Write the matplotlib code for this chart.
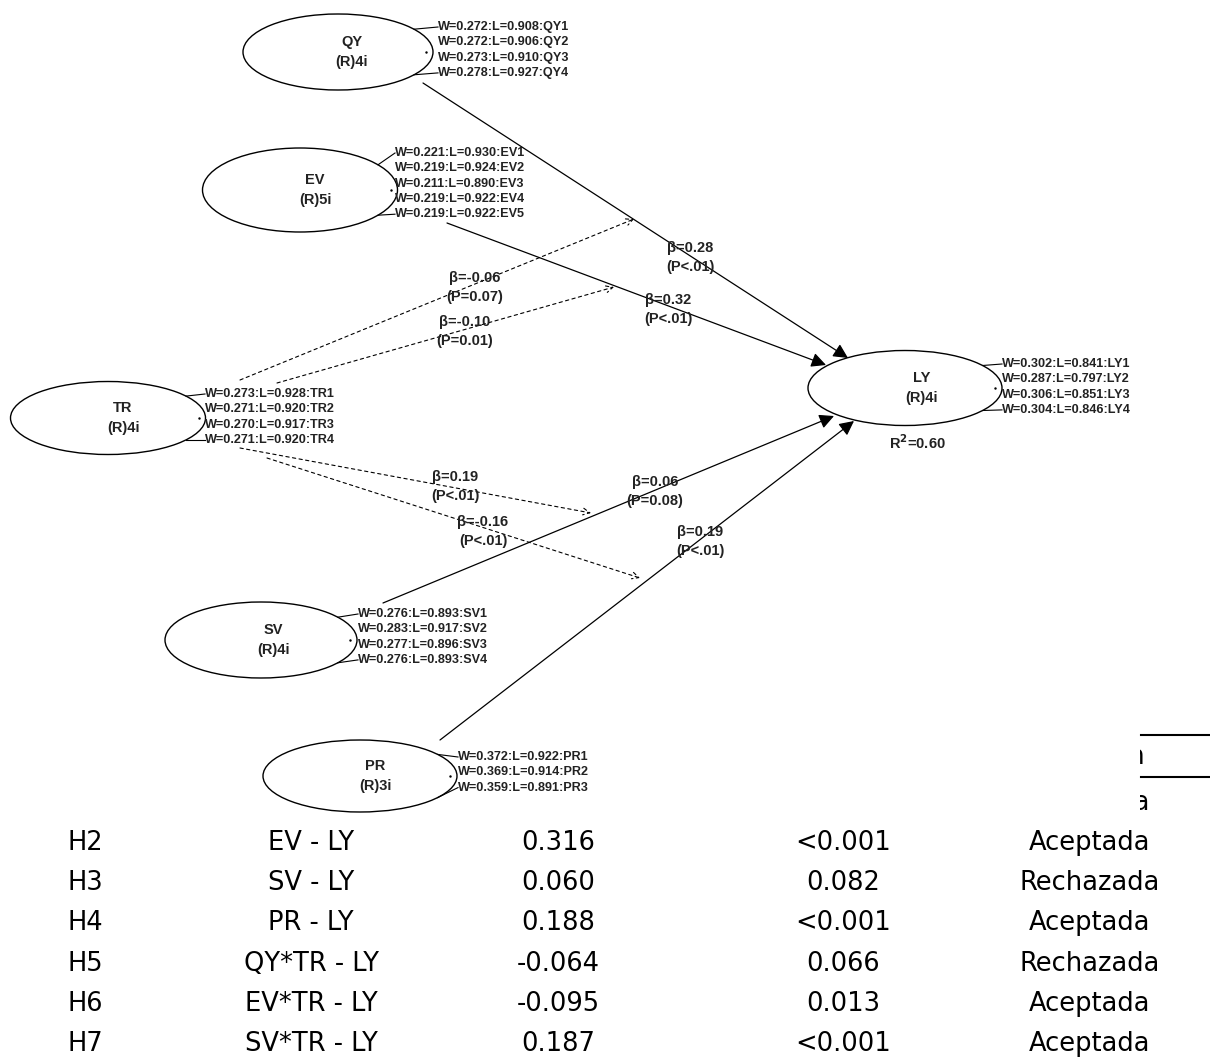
import numpy as np
import matplotlib
matplotlib.use('Agg')
import matplotlib.pyplot as plt  # noqa E402
from matplotlib.patches import Ellipse, Rectangle  # noqa E402

plt.rcParams['font.family'] = ['Liberation Sans', 'DejaVu Sans']

# Measurement model: construct -> (weight, loading) per indicator
constructs = ["QY", "EV", "TR", "LY", "SV", "PR"]
n_items = ["(R)4i", "(R)5i", "(R)4i", "(R)4i", "(R)4i", "(R)3i"]
weights = {
    "QY": [0.272, 0.272, 0.273, 0.278],
    "EV": [0.221, 0.219, 0.211, 0.219, 0.219],
    "TR": [0.273, 0.271, 0.270, 0.271],
    "LY": [0.302, 0.287, 0.306, 0.304],
    "SV": [0.276, 0.283, 0.277, 0.276],
    "PR": [0.372, 0.369, 0.359],
}
loadings = {
    "QY": [0.908, 0.906, 0.910, 0.927],
    "EV": [0.930, 0.924, 0.890, 0.922, 0.922],
    "TR": [0.928, 0.920, 0.917, 0.920],
    "LY": [0.841, 0.797, 0.851, 0.846],
    "SV": [0.893, 0.917, 0.896, 0.893],
    "PR": [0.922, 0.914, 0.891],
}
r_squared = 0.60

# Structural paths
direct_src = ["QY", "EV", "SV", "PR"]
direct_beta = ["0.28", "0.32", "0.06", "0.19"]
direct_p = ["(P<.01)", "(P<.01)", "(P=0.08)", "(P<.01)"]
moder_target = ["QY", "EV", "SV", "PR"]
moder_beta = ["-0.06", "-0.10", "0.19", "-0.16"]
moder_p = ["(P=0.07)", "(P=0.01)", "(P<.01)", "(P<.01)"]

# Hypothesis table (header and H1 row are mostly hidden behind the diagram)
hyp = ["H2", "H3", "H4", "H5", "H6", "H7"]
relation = ["EV - LY", "SV - LY", "PR - LY",
            "QY*TR - LY", "EV*TR - LY", "SV*TR - LY"]
coef = ["0.316", "0.060", "0.188", "-0.064", "-0.095", "0.187"]
pval = ["<0.001", "0.082", "<0.001", "0.066", "0.013", "<0.001"]
decision = ["Aceptada", "Rechazada", "Aceptada",
            "Rechazada", "Aceptada", "Aceptada"]
last_header = "Decisión"
h1_decision = "Aceptada"

# Layout (pixel coordinates)
W, H = 1210, 1057
ell = {  # center x, center y, width, height, text x, item x, first item y
    "QY": (338, 52, 190, 76, 352, 438, 27),
    "EV": (300, 190, 195, 84, 315, 395, 153),
    "TR": (108, 418, 195, 73, 123, 205, 394),
    "LY": (905, 388, 194, 75, 922, 1002, 364),
    "SV": (261, 640, 192, 76, 273, 358, 614),
    "PR": (360, 776, 194, 72, 375, 458, 757),
}
item_step = 15.3
direct_xy = [((423, 83), (848, 358)),
             ((447, 223), (826, 365)),
             ((383, 603), (834, 416)),
             ((440, 740), (854, 421))]
direct_lbl = [(690, 248), (668, 300), (655, 482), (700, 532)]
moder_xy = [((240, 380), (634, 219)),
            ((277, 383), (614, 287)),
            ((240, 448), (591, 513)),
            ((267, 458), (640, 578))]
moder_lbl = [(475, 278), (465, 322), (455, 477), (483, 522)]

fig = plt.figure(figsize=(W / 100, H / 100), dpi=100)
ax = fig.add_axes([0, 0, 1, 1])
ax.set_xlim(0, W)
ax.set_ylim(H, 0)
ax.axis('off')

# Table below the diagram
tfont = dict(family='DejaVu Sans', fontsize=18.5, ha='center',
             va='center')
col_x = [85, 311, 558, 843, 1090]
row_y0, row_step = 843, 40.2
for i in range(len(hyp)):
    y = row_y0 + i * row_step
    for cx, s in zip(col_x, [hyp[i], relation[i], coef[i], pval[i],
                             decision[i]]):
        ax.text(cx, y, s, **tfont)

# Only the right edge of the header and H1 row stays visible
clip = Rectangle((1140, 0), 80, H, transform=ax.transData)
for y, s in [(757, last_header), (803, h1_decision)]:
    t = ax.text(col_x[-1], y, s, clip_on=True, **tfont)
    t.set_clip_path(clip)
for y in [735, 777]:
    ax.plot([1141, W], [y, y], color='black', lw=1.5)

# Constructs and indicators
for c, lab in zip(constructs, n_items):
    cx, cy, w, h, tx, ix, iy = ell[c]
    ax.add_patch(Ellipse((cx, cy), w, h, fill=False, lw=1.0, color='black'))
    ax.text(tx, cy - 10, c, ha='center', va='center', fontsize=10.5,
            fontweight='bold', color='#222222')
    ax.text(tx, cy + 10, lab, ha='center', va='center', fontsize=10.5,
            fontweight='bold', color='#222222')
    ax.plot(cx + 0.93 * w / 2, cy, '.', color='black', ms=1.5)
    ys = []
    for k, (wv, lv) in enumerate(zip(weights[c], loadings[c])):
        y = iy + k * item_step
        ys.append(y)
        ax.text(ix, y, "W=%.3f:L=%.3f:%s%d" % (wv, lv, c, k + 1),
                ha='left', va='center', fontsize=9.1, fontweight='bold',
                color='#222222')
    a, b = w / 2, h / 2
    for sgn, y in [(-1, ys[0]), (1, ys[-1])]:
        ax.plot([cx + 0.8 * a, ix], [cy + sgn * 0.6 * b, y],
                color='black', lw=0.8)

ax.text(917, 443, r"R$^{\mathbf{2}}$=%.2f" % r_squared, ha='center',
        va='center', fontsize=10.5, fontweight='bold', color='#222222')

# Direct effects
for (p0, p1), (lx, ly), bt, pv in zip(direct_xy, direct_lbl, direct_beta,
                                      direct_p):
    ax.annotate("", xy=p1, xytext=p0,
                arrowprops=dict(arrowstyle='-|>', color='black', lw=0.9,
                                mutation_scale=22, shrinkA=0, shrinkB=0))
    ax.text(lx, ly, "β=" + bt, ha='center', va='center', fontsize=10.5,
            fontweight='bold', color='#222222')
    ax.text(lx, ly + 19, pv, ha='center', va='center', fontsize=10.5,
            fontweight='bold', color='#222222')

# Moderating effects of TR
for (p0, p1), (lx, ly), bt, pv in zip(moder_xy, moder_lbl, moder_beta,
                                      moder_p):
    ax.annotate("", xy=p1, xytext=p0,
                arrowprops=dict(arrowstyle='->', color='black', lw=0.8,
                                linestyle=(0, (3, 3)), mutation_scale=12,
                                shrinkA=0, shrinkB=0))
    ax.text(lx, ly, "β=" + bt, ha='center', va='center', fontsize=10.5,
            fontweight='bold', color='#222222')
    ax.text(lx, ly + 19, pv, ha='center', va='center', fontsize=10.5,
            fontweight='bold', color='#222222')

fig.savefig("out.png", dpi=100)
